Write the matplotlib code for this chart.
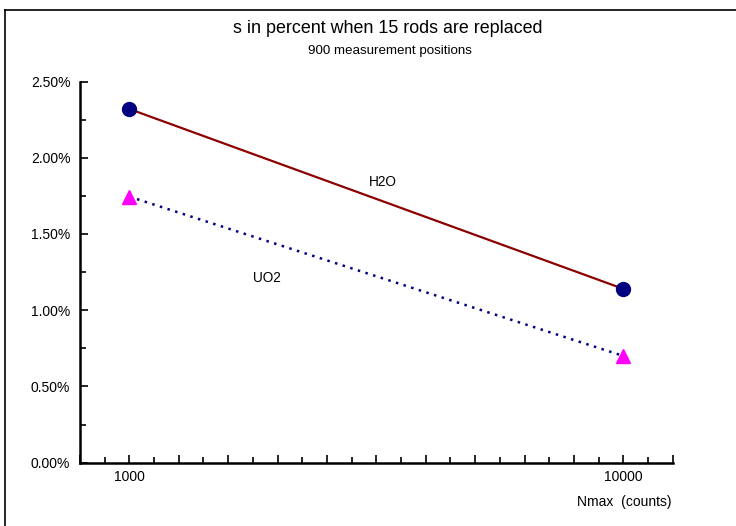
import numpy as np
import matplotlib.pyplot as plt
from matplotlib.lines import Line2D
from matplotlib.ticker import FixedLocator, FuncFormatter, MultipleLocator

plt.rcParams['font.family'] = ['Liberation Sans', 'DejaVu Sans']

nmax = [1000, 10000]
h2o = [2.32, 1.14]
uo2 = [1.745, 0.70]
series_labels = ['H2O', 'UO2']
label_pos = [(3266, 1.84), (1895, 1.21)]

fig = plt.figure(figsize=(7.36, 5.26), dpi=100)
ax = fig.add_axes([0.1087, 0.1205, 0.8053, 0.7244])

ax.plot(nmax, h2o, color='#8b0000', lw=1.6, marker='o', ms=10,
        mfc='#000080', mec='#000080', zorder=3)
ax.plot(nmax, uo2, color='#000080', lw=1.8, ls=(0, (1, 2.2)), marker='^',
        ms=10, mfc='#ff00ff', mec='#ff00ff', zorder=3)

for lab, (x, y) in zip(series_labels, label_pos):
    ax.text(x, y, lab, ha='center', va='center', fontsize=9.8)

ax.set_xscale('log')
ax.set_xlim(10 ** 2.9, 10 ** 4.1)
ax.set_ylim(0, 2.5)

major_x = 10 ** np.arange(2.9, 4.1001, 0.1)
minor_x = 10 ** np.arange(2.95, 4.1, 0.1)
ax.xaxis.set_major_locator(FixedLocator(major_x))
ax.xaxis.set_minor_locator(FixedLocator(minor_x))
ax.xaxis.set_major_formatter(FuncFormatter(
    lambda v, p: f'{v:.0f}' if abs(np.log10(v) - round(np.log10(v))) < 1e-6 else ''))
ax.xaxis.set_minor_formatter(FuncFormatter(lambda v, p: ''))

ax.yaxis.set_major_locator(MultipleLocator(0.5))
ax.yaxis.set_minor_locator(MultipleLocator(0.25))
ax.yaxis.set_major_formatter(FuncFormatter(lambda v, p: f'{v:.2f}%'))

ax.tick_params(which='both', direction='in', labelsize=10, width=1.2)
ax.tick_params(which='major', length=6)
ax.tick_params(which='minor', length=4)
ax.tick_params(axis='x', pad=5.5)
ax.tick_params(axis='y', pad=7)

for side in ['top', 'right']:
    ax.spines[side].set_visible(False)
for side in ['left', 'bottom']:
    ax.spines[side].set_linewidth(1.8)

fig.text(0.527, 0.945, 's in percent when 15 rods are replaced',
         ha='center', va='center', fontsize=12.9)
fig.text(0.53, 0.903, '900 measurement positions',
         ha='center', va='center', fontsize=9.6)
fig.text(0.913, 0.045, 'Nmax  (counts)', ha='right', va='center', fontsize=10)

# frame lines along the top and left edges
fig.add_artist(Line2D([0.0068, 1.0], [0.981, 0.981], color='black', lw=1.2,
                      transform=fig.transFigure))
fig.add_artist(Line2D([0.0068, 0.0068], [0.0, 0.981], color='black', lw=1.2,
                      transform=fig.transFigure))

fig.savefig('out.png', dpi=100)
